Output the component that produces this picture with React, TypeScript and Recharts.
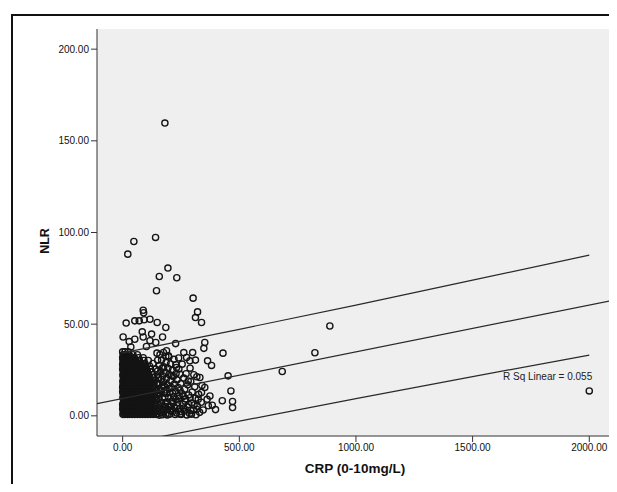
import React from 'react';
import { ScatterChart, Scatter, XAxis, YAxis, CartesianGrid, ReferenceDot } from 'recharts';

const CRP_TICKS = [0, 500, 1000, 1500, 2000];
const NLR_TICKS = [0, 50, 100, 150, 200];
const CRP_DOMAIN = [-110, 2106];
const NLR_DOMAIN = [-11, 211];

// dense block of cases near the origin, one row of CRP values per NLR level
const clusterNlr = [0.8, 2.3, 3.8, 5.4, 6.9, 8.5, 10.0, 11.6, 13.1, 14.7, 16.2, 17.8, 19.3, 20.9, 22.4, 24.0, 25.5, 27.1, 28.6, 30.2, 31.7, 33.3, 34.9];
const clusterCrp = [
  [1, 10, 21, 31, 42, 52, 63, 74, 85, 96, 107, 119, 131, 143],
  [5, 15, 26, 36, 47, 57, 68, 79, 90, 101, 113, 125, 137, 149],
  [0, 11, 22, 32, 43, 54, 64, 75, 86, 97, 108, 120, 132, 145],
  [6, 16, 27, 37, 48, 59, 70, 81, 92, 103, 115, 127, 140],
  [2, 12, 23, 33, 44, 55, 66, 77, 88, 99, 110, 122, 135, 148],
  [7, 17, 28, 39, 49, 60, 71, 82, 93, 105, 117, 130, 143],
  [1, 12, 23, 34, 45, 56, 67, 78, 89, 100, 112, 125, 138],
  [6, 17, 28, 39, 50, 61, 72, 84, 96, 108, 121, 134, 147],
  [0, 11, 22, 33, 44, 55, 66, 77, 89, 101, 114, 128, 142],
  [5, 16, 27, 38, 49, 60, 72, 84, 96, 109, 123, 137],
  [1, 11, 22, 33, 44, 55, 67, 79, 91, 104, 118, 133],
  [6, 16, 27, 38, 50, 61, 73, 85, 98, 112, 127, 146],
  [2, 12, 23, 34, 45, 57, 69, 81, 94, 108, 123, 140],
  [7, 17, 28, 40, 51, 63, 75, 88, 102, 117, 134],
  [1, 12, 23, 35, 46, 58, 70, 83, 97, 112, 129, 150],
  [5, 16, 28, 39, 51, 64, 77, 91, 106, 124],
  [0, 11, 22, 33, 45, 58, 71, 86, 102, 119, 141],
  [4, 15, 27, 39, 52, 66, 81, 98, 116],
  [1, 10, 21, 33, 46, 61, 77, 95, 130],
  [3, 14, 26, 40, 55, 72, 91, 110],
  [0, 9, 20, 33, 49, 68, 88],
  [2, 13, 27, 44, 63],
  [0, 10, 24],
];

// second, staggered set of rows filling the core of the block
const coreNlr = [1.5, 3.0, 4.6, 6.1, 7.7, 9.2, 10.8, 12.3, 13.9, 15.4, 17.0, 18.5, 20.1, 21.6, 23.2, 24.7, 26.3, 27.8, 29.4, 31.0, 32.5];
const coreCrp = [
  [4, 15, 26, 37, 47, 58, 69, 80, 91, 102, 114, 126],
  [2, 9, 20, 30, 41, 51, 62, 73, 84, 95, 106, 118],
  [4, 14, 25, 35, 46, 57, 68, 79, 90, 101, 112, 124],
  [0, 9, 20, 30, 41, 52, 63, 74, 85, 96, 107, 119],
  [5, 15, 26, 36, 47, 58, 69, 80, 91, 102, 114],
  [3, 10, 21, 31, 42, 53, 64, 75, 86, 97, 109, 122],
  [5, 15, 26, 37, 48, 59, 70, 81, 93, 105, 118],
  [2, 11, 22, 33, 44, 55, 66, 78, 90, 102, 115],
  [5, 14, 25, 36, 47, 58, 69, 81, 93, 106],
  [0, 10, 21, 32, 43, 54, 66, 78, 90, 103, 116],
  [4, 14, 25, 36, 48, 59, 71, 83, 96, 110],
  [1, 9, 21, 32, 44, 55, 67, 79, 92, 105, 120],
  [4, 14, 25, 37, 48, 60, 72, 85, 98, 113],
  [2, 10, 22, 33, 45, 57, 69, 81, 95, 109],
  [4, 14, 25, 37, 49, 61, 74, 88, 103],
  [2, 8, 19, 30, 42, 54, 67, 80, 95],
  [5, 16, 28, 40, 53, 67, 82, 99],
  [0, 8, 19, 30, 42, 56, 71, 88],
  [4, 15, 27, 41, 56, 73],
  [1, 10, 22, 36, 52],
  [5, 16, 31],
];

// [CRP, NLR] cases fanning out to the right of the block
const spreadCases: [number, number][] = [
  [152, 1.2], [161, 3.1], [170, 0.6], [158, 5.6], [176, 2.9], [185, 1.0], [166, 7.4], [180, 5.2],
  [193, 3.6], [201, 0.9], [155, 9.3], [172, 9.8], [189, 7.6], [205, 5.3], [214, 2.2], [160, 11.9],
  [178, 12.4], [196, 10.1], [211, 8.1], [223, 4.6], [231, 1.5], [153, 14.6], [168, 15.3], [186, 14.1],
  [203, 12.7], [219, 10.6], [236, 7.3], [244, 3.8], [252, 0.8], [159, 17.8], [175, 18.6], [192, 17.0],
  [209, 15.4], [226, 13.4], [242, 11.0], [258, 6.5], [265, 2.6], [154, 20.7], [171, 21.9], [188, 20.3],
  [206, 19.1], [222, 17.3], [238, 15.5], [255, 12.1], [270, 9.2], [278, 4.7], [287, 1.3], [163, 24.2],
  [182, 23.8], [199, 22.6], [217, 21.4], [233, 19.6], [249, 17.6], [266, 14.5], [283, 11.4], [296, 7.0],
  [303, 3.1], [157, 27.5], [176, 26.7], [194, 26.0], [213, 24.7], [229, 23.1], [262, 20.6], [279, 16.9],
  [298, 13.0], [312, 9.6], [320, 5.3], [330, 1.9], [167, 30.4], [186, 29.1], [205, 28.3], [241, 25.6],
  [272, 23.0], [292, 18.7], [309, 15.8], [326, 11.7], [337, 7.4], [345, 3.2], [160, 33.4], [198, 32.1],
  [220, 30.8], [255, 28.2], [318, 21.3], [340, 16.6], [362, 9.0], [384, 5.8],
  [157, 0.4], [166, 2.0], [174, 4.3], [183, 6.5], [191, 0.5], [197, 5.0], [208, 2.9], [216, 6.8],
  [225, 0.7], [233, 5.5], [240, 9.5], [248, 2.3], [261, 4.2], [268, 8.0], [275, 0.5], [284, 6.2],
  [292, 3.0], [306, 5.9], [314, 0.6], [163, 13.5], [181, 9.9], [199, 14.9], [214, 12.4], [228, 8.9],
  [246, 13.8], [260, 10.5], [289, 9.9], [150, 12.0], [173, 16.8], [190, 12.3], [151, 17.2], [165, 19.9],
  [180, 16.0], [150, 24.5], [169, 26.0], [185, 32.4], [150, 30.3], [210, 22.0], [228, 27.9], [147, 34.2],
  [175, 34.6], [305, 22.4], [289, 26.0], [240, 31.6],
];

// [CRP, NLR] isolated cases
const outlierCases: [number, number][] = [
  [181, 159.7], [141, 97.3], [48, 95.1], [22, 88.2], [194, 80.6], [157, 76.0], [232, 75.3], [145, 68.2],
  [302, 64.2], [321, 56.7], [312, 53.6], [338, 50.9], [888, 49.0], [88, 57.6], [90, 56.2], [15, 50.6],
  [52, 51.8], [71, 51.8], [92, 52.4], [117, 52.7], [148, 50.9], [185, 48.2], [2, 43.0], [28, 40.5],
  [52, 41.8], [84, 45.8], [88, 43.0], [124, 44.6], [117, 41.0], [142, 40.0], [171, 43.0], [102, 37.8],
  [35, 37.6], [227, 39.4], [352, 40.0], [348, 36.8], [430, 34.2], [274, 31.8], [300, 34.5], [262, 34.5],
  [288, 30.0], [312, 30.4], [364, 30.0], [381, 27.5], [188, 35.5], [196, 32.7], [231, 26.4], [245, 22.7],
  [281, 19.0], [331, 20.9], [338, 12.7], [374, 10.8], [324, 9.0], [352, 15.5], [452, 21.8], [464, 13.6],
  [427, 8.2], [471, 7.8], [471, 4.5], [398, 3.4], [367, 5.5], [317, 3.6], [295, 0.9], [245, 0.9],
  [202, 3.1], [684, 24.2], [824, 34.4], [2000, 13.6],
];

// linear fit line across the whole plot and 95% individual prediction bounds
const fitCrp = [-110, 2106];
const fitNlr = [6.6, 63.1];
const bandCrp = [0, 500, 1000, 1500, 2000];
const upperNlr = [34.3, 47.2, 60.4, 74.0, 87.7];
const lowerNlr = [-15.5, -2.9, 9.4, 21.4, 33.1];

const R_SQ_TEXT = 'R Sq Linear = 0.055';
const R_SQ_AT = { crp: 2017, nlr: 20.7 };

const FONT = '"Liberation Sans", Arial, sans-serif';

const rowsToCases = (levels: number[], rows: number[][]) =>
  rows.flatMap((row, i) => row.map(crp => ({ crp, nlr: levels[i] })));

const cases = [
  ...rowsToCases(clusterNlr, clusterCrp),
  ...rowsToCases(coreNlr, coreCrp),
  ...spreadCases.map(([crp, nlr]) => ({ crp, nlr })),
  ...outlierCases.map(([crp, nlr]) => ({ crp, nlr })),
];
const fitLine = fitCrp.map((crp, i) => ({ crp, nlr: fitNlr[i] }));
const upperLine = bandCrp.map((crp, i) => ({ crp, nlr: upperNlr[i] }));
const lowerLine = bandCrp.map((crp, i) => ({ crp, nlr: lowerNlr[i] }));

const OpenCircle = (props: any) => (
  <circle cx={props.cx} cy={props.cy} r={3.1} fill="none" stroke="#141414" strokeWidth={1.35} />
);
const NoMarker = () => <g />;

const fmt = (v: number) => v.toFixed(2);
const tickStyle = { fontSize: 10, fill: '#111', fontFamily: FONT };
const lineStyle = { stroke: '#2a2a2a', strokeWidth: 1.2 };

const App: React.FC = () => {
  return (
    <div style={{ position: 'relative', width: 609, height: 484, marginBottom: -8, background: '#fff' }}>
      <div
        style={{
          position: 'absolute', left: 3, top: 6, width: 604, height: 476,
          borderLeft: '2px solid #111', borderTop: '2px solid #111',
        }}
      />
      <div style={{ position: 'absolute', left: 0, top: 0 }}>
        <ScatterChart width={609} height={484} margin={{ top: 21, right: 3, bottom: 26, left: 29 }}>
          <CartesianGrid fill="#efefef" horizontal={false} vertical={false} />
          <XAxis
            type="number" dataKey="crp" domain={CRP_DOMAIN} ticks={CRP_TICKS} allowDataOverflow
            tickFormatter={fmt} tick={tickStyle} height={30} interval={0}
            axisLine={{ stroke: '#333' }} tickLine={{ stroke: '#333' }}
            label={{
              content: () => (
                <text x={347} y={465} textAnchor="middle" fontFamily={FONT} fontSize={13.5} fontWeight="bold" fill="#111">
                  CRP (0-10mg/L)
                </text>
              ),
            }}
          />
          <XAxis
            xAxisId="top" orientation="top" type="number" dataKey="crp" domain={CRP_DOMAIN} allowDataOverflow
            height={0} tick={false} tickLine={false} axisLine={{ stroke: '#777' }}
          />
          <YAxis
            type="number" dataKey="nlr" domain={NLR_DOMAIN} ticks={NLR_TICKS} allowDataOverflow
            tickFormatter={fmt} tick={tickStyle} width={60} interval={0}
            axisLine={{ stroke: '#333' }} tickLine={{ stroke: '#333' }}
            label={{
              content: () => (
                <text
                  x={41} y={233} textAnchor="middle" transform="rotate(-90 41 233)"
                  fontFamily={FONT} fontSize={12.5} fontWeight="bold" fill="#111"
                >
                  NLR
                </text>
              ),
            }}
          />
          <YAxis
            yAxisId="right" orientation="right" type="number" dataKey="nlr" domain={NLR_DOMAIN} allowDataOverflow
            width={0} tick={false} tickLine={false} axisLine={{ stroke: '#777' }}
          />
          <Scatter data={cases} shape={OpenCircle} isAnimationActive={false} />
          <Scatter data={fitLine} shape={NoMarker} line={lineStyle} isAnimationActive={false} />
          <Scatter data={upperLine} shape={NoMarker} line={lineStyle} isAnimationActive={false} />
          <Scatter data={lowerLine} shape={NoMarker} line={lineStyle} isAnimationActive={false} />
          <ReferenceDot
            x={R_SQ_AT.crp} y={R_SQ_AT.nlr} r={1} fill="none" stroke="none"
            label={{
              content: (p: any) => (
                <text
                  x={p.viewBox.x} y={p.viewBox.y} textAnchor="end" dominantBaseline="central"
                  fontFamily={FONT} fontSize={10} fill="#222"
                >
                  {R_SQ_TEXT}
                </text>
              ),
            }}
          />
        </ScatterChart>
      </div>
    </div>
  );
};

export default App;
